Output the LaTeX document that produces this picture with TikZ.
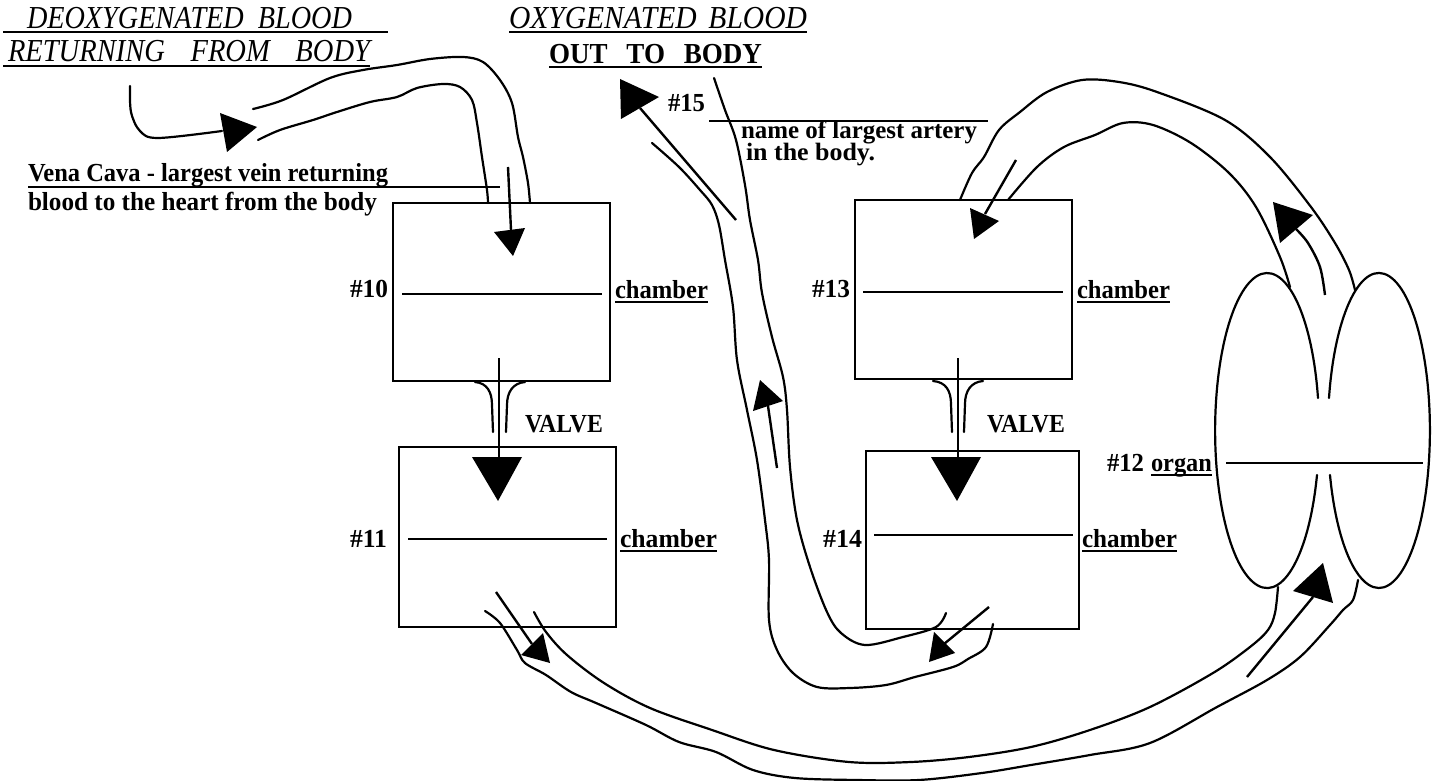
\documentclass[tikz,border=0pt]{standalone}
\usepackage{fontspec}
\setmainfont{Liberation Serif}
\usepackage{graphicx}
\newcommand\fitw[2]{\resizebox{#1}{\height}{#2}}
\newcommand\hdrfont{\fontsize{16}{18}\selectfont\itshape}
\newcommand\lblfont{\fontsize{13}{15}\selectfont\bfseries}
\begin{document}
\begin{tikzpicture}[x=0.5pt,y=-0.5pt,
  lbl/.style={inner sep=0pt, outer sep=0pt, anchor=base west, font=\lblfont},
  hdr/.style={lbl, font=\hdrfont},
  uline/.style={line width=1.1pt},
  chamberbox/.style={draw, line width=1.3pt, inner sep=0pt, minimum width=108.5pt, minimum height=89pt},
  divider/.style={line width=1.2pt},
  vessel/.style={line width=1.1pt, line cap=round, line join=round},
  flow/.style={line width=1.2pt},
  tip/.style={fill=black}]
\useasboundingbox (0,0) rectangle (1437,781);

% ---------- headers ----------
\node[hdr] (h1) at (27,29) {\fitw{162.5pt}{DEOXYGENATED\hspace{0.5em}BLOOD}};
\node[hdr] (h2) at (8,62) {\fitw{181pt}{RETURNING\hspace{0.9em}FROM\hspace{0.9em}BODY}};
\node[hdr] (h3) at (509,29) {\fitw{149pt}{OXYGENATED\hspace{0.4em}BLOOD}};
\node[lbl, font=\fontsize{14.5}{16}\selectfont\bfseries] (h4) at (549,64) {\fitw{106.5pt}{OUT\hspace{0.7em}TO\hspace{0.7em}BODY}};
\draw[uline] (3,32) -- (388,32);
\draw[uline] (3,66) -- (370,66);
\draw[uline] (509,32) -- (807,32);
\draw[uline] (549,67) -- (762,67);

% ---------- labels ----------
\node[lbl] (n15) at (668,112) {\fitw{18.5pt}{\#15}};
\node[lbl, font=\fontsize{12.5}{14}\selectfont\bfseries] (art1) at (741,139) {\fitw{118pt}{name of largest artery}};
\node[lbl, font=\fontsize{12.5}{14}\selectfont\bfseries] (art2) at (746,161) {\fitw{64.5pt}{in the body.}};
\draw[uline] (709,121) -- (988,121);
\node[lbl] (vc1) at (28,182) {\fitw{180pt}{Vena Cava - largest vein returning}};
\node[lbl] (vc2) at (28,211) {\fitw{174.5pt}{blood to the heart from the body}};
\draw[uline] (28,187) -- (500,187);

\node[lbl] (n10) at (350,298) {\fitw{19pt}{\#10}};
\node[lbl] (c10) at (615,298) {\fitw{46.5pt}{chamber}};
\node[lbl] (v1) at (525,432) {\fitw{39pt}{VALVE}};
\node[lbl] (n11) at (350,547) {\fitw{18.5pt}{\#11}};
\node[lbl] (c11) at (620,547) {\fitw{48.5pt}{chamber}};
\node[lbl] (n13) at (812,298) {\fitw{19pt}{\#13}};
\node[lbl] (c13) at (1077,298) {\fitw{46.5pt}{chamber}};
\node[lbl] (v2) at (987,432) {\fitw{39pt}{VALVE}};
\node[lbl] (n14) at (823,547) {\fitw{19.5pt}{\#14}};
\node[lbl] (c14) at (1082,547) {\fitw{47.5pt}{chamber}};
\node[lbl] (n12) at (1107,471) {\fitw{18.5pt}{\#12}};
\node[lbl] (org) at (1151,471) {\fitw{30.5pt}{organ}};
\foreach \t in {c10,c11,c13,c14,org}
  \draw[uline] ([yshift=-2pt]\t.base west) -- ([yshift=-2pt]\t.base east);

% ---------- chambers ----------
\node[chamberbox] (b10) at (501.5,292) {};
\node[chamberbox, minimum height=90pt] (b11) at (507.5,537) {};
\node[chamberbox, minimum height=89.5pt] (b13) at (963.5,289.5) {};
\node[chamberbox, minimum width=106.5pt] (b14) at (972.5,540) {};
\draw[divider] (402,294) -- (602,294);
\draw[divider] (408,539) -- (607,539);
\draw[divider] (863,292) -- (1063,292);
\draw[divider] (874,535) -- (1073,535);

% ---------- valves ----------
\draw[flow] (499,358) -- (499,457);
\fill[tip] (472,457) -- (522,457) -- (498,501) -- cycle;
\draw[vessel] (475,382) .. controls (487,383) and (492,392) .. (492,405) -- (493,432);
\draw[vessel] (525,382) .. controls (513,383) and (507,392) .. (507,405) -- (506,432);
\draw[flow] (958,358) -- (958,457);
\fill[tip] (931,457) -- (981,457) -- (957,501) -- cycle;
\draw[vessel] (933,381) .. controls (946,382) and (951,391) .. (951,404) -- (952,432);
\draw[vessel] (983,381) .. controls (971,382) and (965,391) .. (965,404) -- (964,432);

% ---------- vena cava ----------
\draw[vessel] plot[smooth, tension=0.55] coordinates {(130,86) (131,112) (140,131) (158,138) (222,131)};
\fill[tip] (220,113) -- (257,127) -- (227,152) -- cycle;
\draw[vessel] plot[smooth, tension=0.55] coordinates {(253,109) (283,100) (330,78) (363,70) (397,65) (430,59) (463,57) (483,62) (500,80) (512,103) (518,137) (523,157) (528,183) (530,203)};
\draw[vessel] plot[smooth, tension=0.55] coordinates {(258,140) (280,130) (313,120) (337,112) (370,102) (397,97) (417,88) (443,84) (460,87) (472,100) (477,123) (482,157) (487,190) (488,203)};
\draw[flow] (508,167) -- (511,230);
\fill[tip] (494,232) -- (525,228) -- (513,256) -- cycle;

% ---------- aorta ----------
\fill[tip] (620,79) -- (659,97) -- (621,119) -- cycle;
\draw[flow] (640,108) -- (736,220);
\draw[vessel] plot[smooth, tension=0.55] coordinates {(652,143) (679,167) (700,190) (712,205) (719,225) (725,260) (733,307) (737,360) (747,410) (757,460) (765,520) (769,560) (769,620) (777,650) (793,673) (817,687) (850,688) (886,685) (915,677) (953,667) (968,659) (986,647) (993,624)};
\draw[vessel] plot[smooth, tension=0.55] coordinates {(714,78) (725,110) (736,140) (745,185) (750,220) (758,260) (762,293) (772,337) (783,377) (787,410) (790,467) (797,520) (810,567) (827,612) (841,633) (865,645) (903,637) (936,627) (946,613)};
\draw[flow] (777,468) -- (768,406);
\fill[tip] (760,380) -- (783,401) -- (753,411) -- cycle;
\draw[flow] (989,607) -- (944,644);
\fill[tip] (934,632) -- (955,653) -- (929,662) -- cycle;

% ---------- pulmonary vein arch ----------
\draw[vessel] plot[smooth, tension=0.55] coordinates {(960,200) (972,173) (984,157) (999,130) (1020,112) (1047,92) (1082,80) (1119,82) (1157,92) (1225,120) (1270,157) (1311,207) (1335,243) (1349,270) (1355,290)};
\draw[vessel] plot[smooth, tension=0.55] coordinates {(1008,200) (1037,167) (1064,147) (1095,135) (1123,123) (1153,125) (1191,143) (1229,173) (1256,207) (1280,257) (1290,287)};
\draw[flow] (1016,160) -- (985,214);
\fill[tip] (970,208) -- (999,221) -- (974,239) -- cycle;
\draw[flow] plot[smooth, tension=0.55] coordinates {(1325,295) (1320,267) (1308,243) (1296,229)};
\fill[tip] (1273,202) -- (1313,215) -- (1280,243) -- cycle;

% ---------- lungs ----------
\draw[vessel] (1317,475) arc[start angle=16.4, end angle=348.1, x radius=52, y radius=157.5];
\draw[vessel] (1329,398) arc[start angle=191.9, end angle=523.6, x radius=51, y radius=157.5];
\draw[divider] (1226,463) -- (1423,463);

% ---------- pulmonary artery (lower tube) ----------
\draw[vessel] plot[smooth, tension=0.55] coordinates {(534,612) (546,632) (567,655) (604,683) (650,708) (712,730) (774,750) (849,762) (911,762) (969,757) (1031,747) (1090,730) (1150,707) (1213,673) (1250,647) (1268,630) (1275,613) (1278,587)};
\draw[vessel] plot[smooth, tension=0.55] coordinates {(485,611) (500,623) (517,650) (525,663) (546,675) (571,692) (596,703) (646,725) (679,742) (716,752) (753,770) (795,778) (857,780) (919,780) (982,773) (1031,765) (1090,755) (1150,743) (1217,707) (1267,680) (1300,657) (1330,625) (1343,610) (1353,600) (1358,580)};
\draw[flow] (496,592) -- (532,644);
\fill[tip] (521,655) -- (543,633) -- (550,663) -- cycle;
\draw[flow] (1247,677) -- (1313,597);
\fill[tip] (1293,591) -- (1333,603) -- (1323,563) -- cycle;
\end{tikzpicture}
\end{document}
